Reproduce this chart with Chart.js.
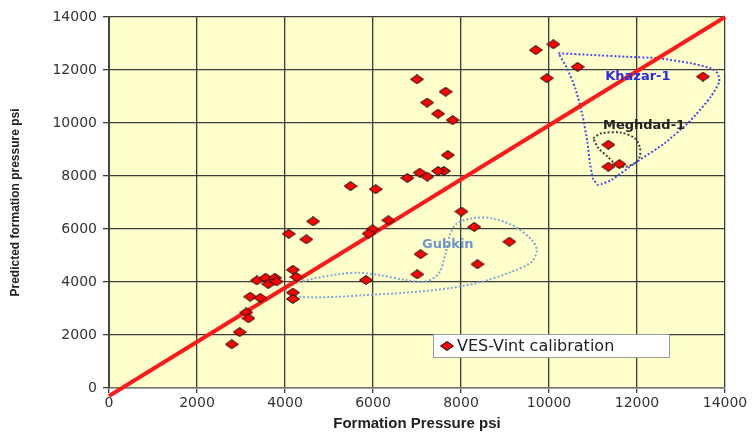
<!DOCTYPE html>
<html lang="en">
<head>
    <meta charset="UTF-8">
    <title>Formation pressure calibration</title>
    <style>
        body { margin: 0; background: #fff; }
        #wrap { width: 754px; height: 437px; }
    </style>
</head>
<body>
    <div id="wrap"><canvas id="myChart" width="754" height="437"></canvas></div>

    <script src="https://cdn.jsdelivr.net/npm/chart.js@4.4.0/dist/chart.umd.min.js"></script>
    <script>
        // measured formation pressure (psi) vs predicted pressure (psi)
        var formationPsi = [
            9700, 10100, 10650, 9950, 13500, 11350, 11350, 11600,
            7000, 7650, 7230, 7480, 7810, 7700, 7610, 7480, 7060, 7235, 6780,
            5490, 6060, 8010, 8300, 9100, 7080, 8375, 7005, 5840,
            6350, 5990, 5900, 4640, 4085, 4485, 4180, 4260,
            3360, 3560, 3770, 3620, 3805, 4180, 4180, 3210, 3440,
            3120, 3170, 2970, 2790
        ];
        var predictedPsi = [
            12750, 12970, 12120, 11690, 11750, 9180, 8350, 8450,
            11650, 11180, 10770, 10350, 10110, 8790, 8190, 8190, 8125, 7975, 7925,
            7620, 7500, 6660, 6080, 5520, 5050, 4670, 4290, 4075,
            6330, 5990, 5830, 6290, 5820, 5610, 4460, 4190,
            4060, 4160, 4160, 3920, 4020, 3600, 3360, 3445, 3400,
            2850, 2630, 2110, 1650
        ];

        var tickValues = [0, 2000, 4000, 6000, 8000, 10000, 12000, 14000];

        // 1:1 reference line
        var lineX = [0, 14000];
        var lineY = [-300, 14000];

        // hand drawn outlines around the wells
        var khazarX = [10213, 10966, 11721, 12475, 13228, 13680, 13832, 13870, 13680, 13228, 12627, 11948, 11419, 11200, 11118, 11000, 10930, 10870, 10760, 10600, 10400, 10213];
        var khazarY = [12632, 12567, 12503, 12443, 12254, 12065, 11877, 11560, 10994, 10114, 9235, 8480, 7850, 7700, 7661, 7900, 8500, 9300, 10300, 11300, 12100, 12632];

        var meghdadX = [11005, 11193, 11645, 11948, 12061, 12061, 11948, 11721, 11532, 11344, 11118, 11005];
        var meghdadY = [9424, 9612, 9635, 9424, 9107, 8729, 8480, 8352, 8416, 8718, 9058, 9424];

        var gubkinX = [3993, 4332, 5237, 5841, 6745, 7725, 8478, 9157, 9609, 9722, 9609, 9233, 8704, 8252, 7913, 7763, 7650, 7499, 7198, 6745, 6141, 5689, 5237, 4332, 3993];
        var gubkinY = [3698, 3446, 3446, 3510, 3597, 3763, 4012, 4389, 4767, 5208, 5586, 6087, 6405, 6405, 6216, 5838, 5084, 4329, 4012, 4076, 4265, 4351, 4302, 4000, 3698];

        var labels = [
            { text: 'Khazar-1', x: 12020, y: 11740, color: '#2a2ae6' },
            { text: 'Meghdad-1', x: 12160, y: 9890, color: '#222222' },
            { text: 'Gubkin', x: 7700, y: 5400, color: '#6f97cc' }
        ];

        function pts(xs, ys) {
            var out = [];
            for (var i = 0; i < xs.length; i++) {
                out.push({ x: xs[i], y: ys[i] });
            }
            return out;
        }

        // flat red diamond used as point marker
        function makeDiamond(w, h) {
            var c = document.createElement('canvas');
            c.width = w; c.height = h;
            var g = c.getContext('2d');
            g.beginPath();
            g.moveTo(w / 2, 0.5);
            g.lineTo(w - 0.5, h / 2);
            g.lineTo(w / 2, h - 0.5);
            g.lineTo(0.5, h / 2);
            g.closePath();
            g.fillStyle = '#ff0000';
            g.fill();
            g.lineWidth = 1;
            g.strokeStyle = '#111';
            g.stroke();
            return c;
        }
        var diamond = makeDiamond(14, 10);

        var plotBg = {
            id: 'plotBg',
            beforeDraw: function(chart) {
                var a = chart.chartArea, ctx = chart.ctx;
                ctx.save();
                ctx.fillStyle = '#ffffcc';
                ctx.fillRect(a.left, a.top, a.right - a.left, a.bottom - a.top);
                ctx.restore();
            }
        };

        var notes = {
            id: 'notes',
            afterDraw: function(chart) {
                var ctx = chart.ctx, xs = chart.scales.x, ys = chart.scales.y;
                ctx.save();
                ctx.font = 'bold 13px "DejaVu Sans"';
                ctx.textAlign = 'center';
                ctx.textBaseline = 'middle';
                labels.forEach(function(l) {
                    ctx.fillStyle = l.color;
                    ctx.fillText(l.text, xs.getPixelForValue(l.x), ys.getPixelForValue(l.y));
                });

                // legend box
                var a = chart.chartArea;
                var bx = a.left + 324, by = a.top + 317, bw = 236, bh = 23;
                ctx.fillStyle = '#ffffff';
                ctx.fillRect(bx, by, bw, bh);
                ctx.strokeStyle = '#9a9a9a';
                ctx.lineWidth = 1;
                ctx.strokeRect(bx + 0.5, by + 0.5, bw, bh);
                ctx.drawImage(diamond, bx + 7, by + 7);
                ctx.fillStyle = '#222';
                ctx.font = '16px "DejaVu Sans"';
                ctx.textAlign = 'left';
                ctx.fillText('VES-Vint calibration', bx + 24, by + bh / 2 + 1);
                ctx.restore();
            }
        };

        function outline(xs, ys, color, t) {
            return {
                data: pts(xs, ys),
                showLine: true,
                tension: t,
                borderColor: color,
                borderWidth: 2,
                borderDash: [2, 2],
                pointRadius: 0,
                fill: false
            };
        }

        var tickFont = { family: 'DejaVu Sans', size: 14 };

        var ctx = document.getElementById('myChart').getContext('2d');
        var myChart = new Chart(ctx, {
            type: 'scatter',
            data: {
                datasets: [
                    {
                        label: 'VES-Vint calibration',
                        data: pts(formationPsi, predictedPsi),
                        pointStyle: diamond,
                        pointRadius: 6
                    },
                    {
                        data: pts(lineX, lineY),
                        showLine: true,
                        borderColor: '#ff1a1a',
                        borderWidth: 4,
                        pointRadius: 0,
                        clip: false
                    },
                    outline(khazarX, khazarY, '#4a4ae8', 0.2),
                    outline(meghdadX, meghdadY, '#444444', 0.3),
                    outline(gubkinX, gubkinY, '#7fa6d4', 0.3)
                ]
            },
            options: {
                responsive: false,
                animation: false,
                layout: { padding: { top: 17, right: 29, left: 0, bottom: 0 } },
                plugins: {
                    legend: { display: false },
                    tooltip: { enabled: false }
                },
                scales: {
                    x: {
                        min: 0, max: 14000,
                        afterBuildTicks: function(s) { s.ticks = tickValues.map(function(v) { return { value: v }; }); },
                        ticks: { color: '#333', font: tickFont, padding: 2, callback: function(v) { return String(v); } },
                        grid: { color: '#3c3c3c', lineWidth: 1.3, tickLength: 5 },
                        border: { color: '#777', width: 1.5 },
                        title: {
                            display: true, text: 'Formation Pressure psi', color: '#222',
                            font: { family: 'Liberation Sans', size: 15, weight: 'bold' }, padding: { top: 4 }
                        },
                        afterFit: function(s) { s.height = 49; }
                    },
                    y: {
                        min: 0, max: 14000,
                        afterBuildTicks: function(s) { s.ticks = tickValues.map(function(v) { return { value: v }; }); },
                        ticks: { color: '#333', font: tickFont, padding: 6, callback: function(v) { return String(v); } },
                        grid: { color: '#3c3c3c', lineWidth: 1.3, tickLength: 6 },
                        border: { color: '#444', width: 2 },
                        title: {
                            display: true, text: 'Predicted formation pressure psi', color: '#222',
                            font: { family: 'Liberation Sans', size: 12, weight: 'bold' }, padding: { top: 8 }
                        },
                        afterFit: function(s) { s.width = 109; }
                    }
                }
            },
            plugins: [plotBg, notes]
        });
    </script>
</body>
</html>
